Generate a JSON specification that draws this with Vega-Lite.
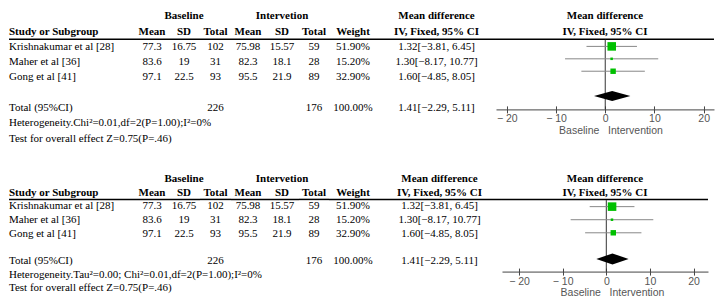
{
  "$schema": "https://vega.github.io/schema/vega-lite/v6.json",
  "padding": {"left": 8, "top": 8.65, "right": 0, "bottom": 0},
  "spacing": 25.45,
  "config": {
    "view": {"stroke": null},
    "text": {"font": "Liberation Serif", "fontSize": 11, "color": "black", "baseline": "middle"}
  },
  "datasets": {
    "tab1": [
      {"row": "group", "bsd": "Baseline", "isd": "Intervetion", "ci": "Mean difference"},
      {"row": "header", "study": "Study or Subgroup", "bm": "Mean", "bsd": "SD", "bt": "Total", "im": "Mean", "isd": "SD", "it": "Total", "w": "Weight", "ci": "IV, Fixed, 95% CI"},
      {"row": "r1", "study": "Krishnakumar et al [28]", "bm": "77.3", "bsd": "16.75", "bt": "102", "im": "75.98", "isd": "15.57", "it": "59", "w": "51.90%", "ci": "1.32[−3.81, 6.45]"},
      {"row": "r2", "study": "Maher et al [36]", "bm": "83.6", "bsd": "19", "bt": "31", "im": "82.3", "isd": "18.1", "it": "28", "w": "15.20%", "ci": "1.30[−8.17, 10.77]"},
      {"row": "r3", "study": "Gong et al [41]", "bm": "97.1", "bsd": "22.5", "bt": "93", "im": "95.5", "isd": "21.9", "it": "89", "w": "32.90%", "ci": "1.60[−4.85, 8.05]"},
      {"row": "total", "study": "Total (95%CI)", "bt": "226", "it": "176", "w": "100.00%", "ci": "1.41[−2.29, 5.11]"},
      {"row": "het", "study": "Heterogeneity.Chi²=0.01,df=2(P=1.00);I²=0%"},
      {"row": "test", "study": "Test for overall effect Z=0.75(P=.46)"}
    ],
    "tab2": [
      {"row": "group", "bsd": "Baseline", "isd": "Intervetion", "ci": "Mean difference"},
      {"row": "header", "study": "Study or Subgroup", "bm": "Mean", "bsd": "SD", "bt": "Total", "im": "Mean", "isd": "SD", "it": "Total", "w": "Weight", "ci": "IV, Fixed, 95% CI"},
      {"row": "r1", "study": "Krishnakumar et al [28]", "bm": "77.3", "bsd": "16.75", "bt": "102", "im": "75.98", "isd": "15.57", "it": "59", "w": "51.90%", "ci": "1.32[−3.81, 6.45]"},
      {"row": "r2", "study": "Maher et al [36]", "bm": "83.6", "bsd": "19", "bt": "31", "im": "82.3", "isd": "18.1", "it": "28", "w": "15.20%", "ci": "1.30[−8.17, 10.77]"},
      {"row": "r3", "study": "Gong et al [41]", "bm": "97.1", "bsd": "22.5", "bt": "93", "im": "95.5", "isd": "21.9", "it": "89", "w": "32.90%", "ci": "1.60[−4.85, 8.05]"},
      {"row": "total", "study": "Total (95%CI)", "bt": "226", "it": "176", "w": "100.00%", "ci": "1.41[−2.29, 5.11]"},
      {"row": "het", "study": "Heterogeneity.Tau²=0.00; Chi²=0.01,df=2(P=1.00);I²=0%"},
      {"row": "test", "study": "Test for overall effect Z=0.75(P=.46)"}
    ],
    "forest": [
      {"row": "r1", "md": 1.32, "lo": -3.81, "hi": 6.45, "w": 51.9},
      {"row": "r2", "md": 1.30, "lo": -8.17, "hi": 10.77, "w": 15.2},
      {"row": "r3", "md": 1.60, "lo": -4.85, "hi": 8.05, "w": 32.9}
    ],
    "diamond": [
      {"md": -2.29, "up": 0, "dn": 0},
      {"md": 1.41, "up": 1, "dn": -1},
      {"md": 5.11, "up": 0, "dn": 0}
    ]
  },
  "vconcat": [
    {
      "hconcat": [
        {"width": 127, "height": 137.7, "layer": [
          {"data": {"name": "tab1"}, "transform": [{"filter": "datum.study != null && datum.row === 'header'"}], "mark": {"type": "text", "align": "left", "fontWeight": "bold"}, "encoding": {"x": {"datum": "a", "type": "nominal", "bandPosition": 0, "scale": {"type": "band", "domain": ["a"], "paddingInner": 0, "paddingOuter": 0}, "axis": null}, "y": {"field": "row", "type": "nominal", "scale": {"type": "band", "domain": ["group","header","r1","r2","r3","gap","total","het","test"], "paddingInner": 0, "paddingOuter": 0}, "axis": null}, "text": {"field": "study"}}},
          {"data": {"name": "tab1"}, "transform": [{"filter": "datum.study != null && datum.row !== 'header'"}], "mark": {"type": "text", "align": "left"}, "encoding": {"x": {"datum": "a", "type": "nominal", "bandPosition": 0}, "y": {"field": "row", "type": "nominal"}, "text": {"field": "study"}}},
          {"data": {"values": [{}]}, "mark": {"type": "rule", "color": "black", "strokeWidth": 1.5}, "encoding": {"y": {"datum": "r1", "type": "nominal", "bandPosition": 0}}}
        ]},
        {"width": 32, "height": 137.7, "layer": [
          {"data": {"name": "tab1"}, "transform": [{"filter": "datum.bm != null && (datum.row === 'group' || datum.row === 'header')"}], "mark": {"type": "text", "fontWeight": "bold"}, "encoding": {"y": {"field": "row", "type": "nominal", "scale": {"type": "band", "domain": ["group","header","r1","r2","r3","gap","total","het","test"], "paddingInner": 0, "paddingOuter": 0}, "axis": null}, "text": {"field": "bm"}}},
          {"data": {"name": "tab1"}, "transform": [{"filter": "datum.bm != null && datum.row !== 'group' && datum.row !== 'header'"}], "mark": {"type": "text"}, "encoding": {"y": {"field": "row", "type": "nominal"}, "text": {"field": "bm"}}},
          {"data": {"values": [{}]}, "mark": {"type": "rule", "color": "black", "strokeWidth": 1.5}, "encoding": {"y": {"datum": "r1", "type": "nominal", "bandPosition": 0}}}
        ]},
        {"width": 32, "height": 137.7, "layer": [
          {"data": {"name": "tab1"}, "transform": [{"filter": "datum.bsd != null && (datum.row === 'group' || datum.row === 'header')"}], "mark": {"type": "text", "fontWeight": "bold"}, "encoding": {"y": {"field": "row", "type": "nominal", "scale": {"type": "band", "domain": ["group","header","r1","r2","r3","gap","total","het","test"], "paddingInner": 0, "paddingOuter": 0}, "axis": null}, "text": {"field": "bsd"}}},
          {"data": {"name": "tab1"}, "transform": [{"filter": "datum.bsd != null && datum.row !== 'group' && datum.row !== 'header'"}], "mark": {"type": "text"}, "encoding": {"y": {"field": "row", "type": "nominal"}, "text": {"field": "bsd"}}},
          {"data": {"values": [{}]}, "mark": {"type": "rule", "color": "black", "strokeWidth": 1.5}, "encoding": {"y": {"datum": "r1", "type": "nominal", "bandPosition": 0}}}
        ]},
        {"width": 31, "height": 137.7, "layer": [
          {"data": {"name": "tab1"}, "transform": [{"filter": "datum.bt != null && (datum.row === 'group' || datum.row === 'header')"}], "mark": {"type": "text", "fontWeight": "bold"}, "encoding": {"y": {"field": "row", "type": "nominal", "scale": {"type": "band", "domain": ["group","header","r1","r2","r3","gap","total","het","test"], "paddingInner": 0, "paddingOuter": 0}, "axis": null}, "text": {"field": "bt"}}},
          {"data": {"name": "tab1"}, "transform": [{"filter": "datum.bt != null && datum.row !== 'group' && datum.row !== 'header'"}], "mark": {"type": "text"}, "encoding": {"y": {"field": "row", "type": "nominal"}, "text": {"field": "bt"}}},
          {"data": {"values": [{}]}, "mark": {"type": "rule", "color": "black", "strokeWidth": 1.5}, "encoding": {"y": {"datum": "r1", "type": "nominal", "bandPosition": 0}}}
        ]},
        {"width": 34, "height": 137.7, "layer": [
          {"data": {"name": "tab1"}, "transform": [{"filter": "datum.im != null && (datum.row === 'group' || datum.row === 'header')"}], "mark": {"type": "text", "fontWeight": "bold"}, "encoding": {"y": {"field": "row", "type": "nominal", "scale": {"type": "band", "domain": ["group","header","r1","r2","r3","gap","total","het","test"], "paddingInner": 0, "paddingOuter": 0}, "axis": null}, "text": {"field": "im"}}},
          {"data": {"name": "tab1"}, "transform": [{"filter": "datum.im != null && datum.row !== 'group' && datum.row !== 'header'"}], "mark": {"type": "text"}, "encoding": {"y": {"field": "row", "type": "nominal"}, "text": {"field": "im"}}},
          {"data": {"values": [{}]}, "mark": {"type": "rule", "color": "black", "strokeWidth": 1.5}, "encoding": {"y": {"datum": "r1", "type": "nominal", "bandPosition": 0}}}
        ]},
        {"width": 34, "height": 137.7, "layer": [
          {"data": {"name": "tab1"}, "transform": [{"filter": "datum.isd != null && (datum.row === 'group' || datum.row === 'header')"}], "mark": {"type": "text", "fontWeight": "bold"}, "encoding": {"y": {"field": "row", "type": "nominal", "scale": {"type": "band", "domain": ["group","header","r1","r2","r3","gap","total","het","test"], "paddingInner": 0, "paddingOuter": 0}, "axis": null}, "text": {"field": "isd"}}},
          {"data": {"name": "tab1"}, "transform": [{"filter": "datum.isd != null && datum.row !== 'group' && datum.row !== 'header'"}], "mark": {"type": "text"}, "encoding": {"y": {"field": "row", "type": "nominal"}, "text": {"field": "isd"}}},
          {"data": {"values": [{}]}, "mark": {"type": "rule", "color": "black", "strokeWidth": 1.5}, "encoding": {"y": {"datum": "r1", "type": "nominal", "bandPosition": 0}}}
        ]},
        {"width": 30, "height": 137.7, "layer": [
          {"data": {"name": "tab1"}, "transform": [{"filter": "datum.it != null && (datum.row === 'group' || datum.row === 'header')"}], "mark": {"type": "text", "fontWeight": "bold"}, "encoding": {"y": {"field": "row", "type": "nominal", "scale": {"type": "band", "domain": ["group","header","r1","r2","r3","gap","total","het","test"], "paddingInner": 0, "paddingOuter": 0}, "axis": null}, "text": {"field": "it"}}},
          {"data": {"name": "tab1"}, "transform": [{"filter": "datum.it != null && datum.row !== 'group' && datum.row !== 'header'"}], "mark": {"type": "text"}, "encoding": {"y": {"field": "row", "type": "nominal"}, "text": {"field": "it"}}},
          {"data": {"values": [{}]}, "mark": {"type": "rule", "color": "black", "strokeWidth": 1.5}, "encoding": {"y": {"datum": "r1", "type": "nominal", "bandPosition": 0}}}
        ]},
        {"width": 48, "height": 137.7, "layer": [
          {"data": {"name": "tab1"}, "transform": [{"filter": "datum.w != null && (datum.row === 'group' || datum.row === 'header')"}], "mark": {"type": "text", "fontWeight": "bold"}, "encoding": {"y": {"field": "row", "type": "nominal", "scale": {"type": "band", "domain": ["group","header","r1","r2","r3","gap","total","het","test"], "paddingInner": 0, "paddingOuter": 0}, "axis": null}, "text": {"field": "w"}}},
          {"data": {"name": "tab1"}, "transform": [{"filter": "datum.w != null && datum.row !== 'group' && datum.row !== 'header'"}], "mark": {"type": "text"}, "encoding": {"y": {"field": "row", "type": "nominal"}, "text": {"field": "w"}}},
          {"data": {"values": [{}]}, "mark": {"type": "rule", "color": "black", "strokeWidth": 1.5}, "encoding": {"y": {"datum": "r1", "type": "nominal", "bandPosition": 0}}}
        ]},
        {"width": 119, "height": 137.7, "layer": [
          {"data": {"name": "tab1"}, "transform": [{"filter": "datum.ci != null && (datum.row === 'group' || datum.row === 'header')"}], "mark": {"type": "text", "fontWeight": "bold"}, "encoding": {"y": {"field": "row", "type": "nominal", "scale": {"type": "band", "domain": ["group","header","r1","r2","r3","gap","total","het","test"], "paddingInner": 0, "paddingOuter": 0}, "axis": null}, "text": {"field": "ci"}}},
          {"data": {"name": "tab1"}, "transform": [{"filter": "datum.ci != null && datum.row !== 'group' && datum.row !== 'header'"}], "mark": {"type": "text"}, "encoding": {"y": {"field": "row", "type": "nominal"}, "text": {"field": "ci"}}},
          {"data": {"values": [{}]}, "mark": {"type": "rule", "color": "black", "strokeWidth": 1.5}, "encoding": {"y": {"datum": "r1", "type": "nominal", "bandPosition": 0}}}
        ]},
        {
          "vconcat": [
            {"width": 218, "height": 30.6, "layer": [
              {"data": {"name": "tab1"}, "transform": [{"filter": "datum.row === 'group' || datum.row === 'header'"}], "mark": {"type": "text", "fontWeight": "bold"}, "encoding": {"y": {"field": "row", "type": "nominal", "scale": {"type": "band", "domain": ["group","header"], "paddingInner": 0, "paddingOuter": 0}, "axis": null}, "text": {"field": "ci"}}},
              {"data": {"values": [{}]}, "mark": {"type": "rule", "color": "black", "strokeWidth": 1.5}, "encoding": {"y": {"datum": "header", "type": "nominal", "bandPosition": 1}}}
            ]},
            {"width": 218, "height": 69.75, "layer": [
              {"data": {"values": [{}]}, "mark": {"type": "rule", "color": "#333", "strokeWidth": 1}, "encoding": {"x": {"datum": 0, "type": "quantitative", "axis": null}}},
              {"data": {"name": "forest"}, "mark": {"type": "rule", "color": "#888", "strokeWidth": 1}, "encoding": {
                "x": {"field": "lo", "type": "quantitative", "scale": {"domain": [-22.2, 22.1], "nice": false, "zero": false}, "axis": {"orient": "bottom", "values": [-20, -10, 0, 10, 20], "grid": false, "domainColor": "#444", "tickColor": "#444", "tickSize": 3.5, "labelPadding": 1, "labelColor": "#555", "labelFont": "Liberation Sans", "labelFontSize": 10.5, "labelExpr": "datum.value < 0 ? '− ' + abs(datum.value) : datum.label", "title": "Baseline\u00a0\u00a0\u00a0Intervention", "titleFont": "Liberation Sans", "titleFontSize": 10.5, "titleFontWeight": "normal", "titleColor": "#555", "titlePadding": 1, "titleX": 114.5, "titleAlign": "center"}},
                "x2": {"field": "hi"},
                "y": {"field": "row", "type": "nominal", "scale": {"type": "band", "domain": ["r1","r2","r3","gap","total"], "paddingInner": 0, "paddingOuter": 0.308, "align": 0.07}, "axis": null}}},
              {"data": {"name": "forest"}, "mark": {"type": "square", "filled": true, "color": "#00C000", "opacity": 1}, "encoding": {
                "x": {"field": "md", "type": "quantitative", "axis": {"orient": "bottom", "values": [-20, -10, 0, 10, 20], "grid": false, "domain": false, "labels": false, "tickSize": -3.5, "tickColor": "#444", "title": null}},
                "y": {"field": "row", "type": "nominal", "scale": {"type": "band", "domain": ["r1","r2","r3","gap","total"], "paddingInner": 0, "paddingOuter": 0.308, "align": 0.07}, "axis": null},
                "size": {"field": "w", "type": "quantitative", "scale": {"type": "pow", "exponent": 2, "domain": [0, 100], "range": [0, 272]}, "legend": null}}},
              {"data": {"name": "diamond"}, "mark": {"type": "area", "color": "black"}, "encoding": {
                "x": {"field": "md", "type": "quantitative", "axis": null},
                "y": {"field": "up", "type": "quantitative", "scale": {"domain": [-2.66, 11.29], "nice": false, "zero": false}, "axis": null},
                "y2": {"field": "dn"}}}
            ], "resolve": {"scale": {"y": "independent"}, "axis": {"x": "independent"}}}
          ],
          "spacing": 0,
          "bounds": "flush"
        }
      ],
      "spacing": 0,
      "bounds": "flush"
    },
    {
      "hconcat": [
        {"width": 127, "height": 122.94, "layer": [
          {"data": {"name": "tab2"}, "transform": [{"filter": "datum.study != null && datum.row === 'header'"}], "mark": {"type": "text", "align": "left", "fontWeight": "bold"}, "encoding": {"x": {"datum": "a", "type": "nominal", "bandPosition": 0, "scale": {"type": "band", "domain": ["a"], "paddingInner": 0, "paddingOuter": 0}, "axis": null}, "y": {"field": "row", "type": "nominal", "scale": {"type": "band", "domain": ["group","header","r1","r2","r3","gap","total","het","test"], "paddingInner": 0, "paddingOuter": 0}, "axis": null}, "text": {"field": "study"}}},
          {"data": {"name": "tab2"}, "transform": [{"filter": "datum.study != null && datum.row !== 'header'"}], "mark": {"type": "text", "align": "left"}, "encoding": {"x": {"datum": "a", "type": "nominal", "bandPosition": 0}, "y": {"field": "row", "type": "nominal"}, "text": {"field": "study"}}},
          {"data": {"values": [{}]}, "mark": {"type": "rule", "color": "black", "strokeWidth": 1.5}, "encoding": {"y": {"datum": "r1", "type": "nominal", "bandPosition": 0}}}
        ]},
        {"width": 32, "height": 122.94, "layer": [
          {"data": {"name": "tab2"}, "transform": [{"filter": "datum.bm != null && (datum.row === 'group' || datum.row === 'header')"}], "mark": {"type": "text", "fontWeight": "bold"}, "encoding": {"y": {"field": "row", "type": "nominal", "scale": {"type": "band", "domain": ["group","header","r1","r2","r3","gap","total","het","test"], "paddingInner": 0, "paddingOuter": 0}, "axis": null}, "text": {"field": "bm"}}},
          {"data": {"name": "tab2"}, "transform": [{"filter": "datum.bm != null && datum.row !== 'group' && datum.row !== 'header'"}], "mark": {"type": "text"}, "encoding": {"y": {"field": "row", "type": "nominal"}, "text": {"field": "bm"}}},
          {"data": {"values": [{}]}, "mark": {"type": "rule", "color": "black", "strokeWidth": 1.5}, "encoding": {"y": {"datum": "r1", "type": "nominal", "bandPosition": 0}}}
        ]},
        {"width": 32, "height": 122.94, "layer": [
          {"data": {"name": "tab2"}, "transform": [{"filter": "datum.bsd != null && (datum.row === 'group' || datum.row === 'header')"}], "mark": {"type": "text", "fontWeight": "bold"}, "encoding": {"y": {"field": "row", "type": "nominal", "scale": {"type": "band", "domain": ["group","header","r1","r2","r3","gap","total","het","test"], "paddingInner": 0, "paddingOuter": 0}, "axis": null}, "text": {"field": "bsd"}}},
          {"data": {"name": "tab2"}, "transform": [{"filter": "datum.bsd != null && datum.row !== 'group' && datum.row !== 'header'"}], "mark": {"type": "text"}, "encoding": {"y": {"field": "row", "type": "nominal"}, "text": {"field": "bsd"}}},
          {"data": {"values": [{}]}, "mark": {"type": "rule", "color": "black", "strokeWidth": 1.5}, "encoding": {"y": {"datum": "r1", "type": "nominal", "bandPosition": 0}}}
        ]},
        {"width": 31, "height": 122.94, "layer": [
          {"data": {"name": "tab2"}, "transform": [{"filter": "datum.bt != null && (datum.row === 'group' || datum.row === 'header')"}], "mark": {"type": "text", "fontWeight": "bold"}, "encoding": {"y": {"field": "row", "type": "nominal", "scale": {"type": "band", "domain": ["group","header","r1","r2","r3","gap","total","het","test"], "paddingInner": 0, "paddingOuter": 0}, "axis": null}, "text": {"field": "bt"}}},
          {"data": {"name": "tab2"}, "transform": [{"filter": "datum.bt != null && datum.row !== 'group' && datum.row !== 'header'"}], "mark": {"type": "text"}, "encoding": {"y": {"field": "row", "type": "nominal"}, "text": {"field": "bt"}}},
          {"data": {"values": [{}]}, "mark": {"type": "rule", "color": "black", "strokeWidth": 1.5}, "encoding": {"y": {"datum": "r1", "type": "nominal", "bandPosition": 0}}}
        ]},
        {"width": 34, "height": 122.94, "layer": [
          {"data": {"name": "tab2"}, "transform": [{"filter": "datum.im != null && (datum.row === 'group' || datum.row === 'header')"}], "mark": {"type": "text", "fontWeight": "bold"}, "encoding": {"y": {"field": "row", "type": "nominal", "scale": {"type": "band", "domain": ["group","header","r1","r2","r3","gap","total","het","test"], "paddingInner": 0, "paddingOuter": 0}, "axis": null}, "text": {"field": "im"}}},
          {"data": {"name": "tab2"}, "transform": [{"filter": "datum.im != null && datum.row !== 'group' && datum.row !== 'header'"}], "mark": {"type": "text"}, "encoding": {"y": {"field": "row", "type": "nominal"}, "text": {"field": "im"}}},
          {"data": {"values": [{}]}, "mark": {"type": "rule", "color": "black", "strokeWidth": 1.5}, "encoding": {"y": {"datum": "r1", "type": "nominal", "bandPosition": 0}}}
        ]},
        {"width": 34, "height": 122.94, "layer": [
          {"data": {"name": "tab2"}, "transform": [{"filter": "datum.isd != null && (datum.row === 'group' || datum.row === 'header')"}], "mark": {"type": "text", "fontWeight": "bold"}, "encoding": {"y": {"field": "row", "type": "nominal", "scale": {"type": "band", "domain": ["group","header","r1","r2","r3","gap","total","het","test"], "paddingInner": 0, "paddingOuter": 0}, "axis": null}, "text": {"field": "isd"}}},
          {"data": {"name": "tab2"}, "transform": [{"filter": "datum.isd != null && datum.row !== 'group' && datum.row !== 'header'"}], "mark": {"type": "text"}, "encoding": {"y": {"field": "row", "type": "nominal"}, "text": {"field": "isd"}}},
          {"data": {"values": [{}]}, "mark": {"type": "rule", "color": "black", "strokeWidth": 1.5}, "encoding": {"y": {"datum": "r1", "type": "nominal", "bandPosition": 0}}}
        ]},
        {"width": 30, "height": 122.94, "layer": [
          {"data": {"name": "tab2"}, "transform": [{"filter": "datum.it != null && (datum.row === 'group' || datum.row === 'header')"}], "mark": {"type": "text", "fontWeight": "bold"}, "encoding": {"y": {"field": "row", "type": "nominal", "scale": {"type": "band", "domain": ["group","header","r1","r2","r3","gap","total","het","test"], "paddingInner": 0, "paddingOuter": 0}, "axis": null}, "text": {"field": "it"}}},
          {"data": {"name": "tab2"}, "transform": [{"filter": "datum.it != null && datum.row !== 'group' && datum.row !== 'header'"}], "mark": {"type": "text"}, "encoding": {"y": {"field": "row", "type": "nominal"}, "text": {"field": "it"}}},
          {"data": {"values": [{}]}, "mark": {"type": "rule", "color": "black", "strokeWidth": 1.5}, "encoding": {"y": {"datum": "r1", "type": "nominal", "bandPosition": 0}}}
        ]},
        {"width": 48, "height": 122.94, "layer": [
          {"data": {"name": "tab2"}, "transform": [{"filter": "datum.w != null && (datum.row === 'group' || datum.row === 'header')"}], "mark": {"type": "text", "fontWeight": "bold"}, "encoding": {"y": {"field": "row", "type": "nominal", "scale": {"type": "band", "domain": ["group","header","r1","r2","r3","gap","total","het","test"], "paddingInner": 0, "paddingOuter": 0}, "axis": null}, "text": {"field": "w"}}},
          {"data": {"name": "tab2"}, "transform": [{"filter": "datum.w != null && datum.row !== 'group' && datum.row !== 'header'"}], "mark": {"type": "text"}, "encoding": {"y": {"field": "row", "type": "nominal"}, "text": {"field": "w"}}},
          {"data": {"values": [{}]}, "mark": {"type": "rule", "color": "black", "strokeWidth": 1.5}, "encoding": {"y": {"datum": "r1", "type": "nominal", "bandPosition": 0}}}
        ]},
        {"width": 125, "height": 122.94, "layer": [
          {"data": {"name": "tab2"}, "transform": [{"filter": "datum.ci != null && (datum.row === 'group' || datum.row === 'header')"}], "mark": {"type": "text", "fontWeight": "bold"}, "encoding": {"y": {"field": "row", "type": "nominal", "scale": {"type": "band", "domain": ["group","header","r1","r2","r3","gap","total","het","test"], "paddingInner": 0, "paddingOuter": 0}, "axis": null}, "text": {"field": "ci"}}},
          {"data": {"name": "tab2"}, "transform": [{"filter": "datum.ci != null && datum.row !== 'group' && datum.row !== 'header'"}], "mark": {"type": "text"}, "encoding": {"y": {"field": "row", "type": "nominal"}, "text": {"field": "ci"}}},
          {"data": {"values": [{}]}, "mark": {"type": "rule", "color": "black", "strokeWidth": 1.5}, "encoding": {"y": {"datum": "r1", "type": "nominal", "bandPosition": 0}}}
        ]},
        {
          "vconcat": [
            {"width": 206, "height": 27.32, "layer": [
              {"data": {"name": "tab2"}, "transform": [{"filter": "datum.row === 'group' || datum.row === 'header'"}], "mark": {"type": "text", "fontWeight": "bold"}, "encoding": {"y": {"field": "row", "type": "nominal", "scale": {"type": "band", "domain": ["group","header"], "paddingInner": 0, "paddingOuter": 0}, "axis": null}, "text": {"field": "ci"}}},
              {"data": {"values": [{}]}, "mark": {"type": "rule", "color": "black", "strokeWidth": 1.5}, "encoding": {"y": {"datum": "header", "type": "nominal", "bandPosition": 1}}}
            ]},
            {"width": 206, "height": 71.5, "layer": [
              {"data": {"values": [{}]}, "mark": {"type": "rule", "color": "#333", "strokeWidth": 1}, "encoding": {"x": {"datum": 0, "type": "quantitative", "axis": null}}},
              {"data": {"name": "forest"}, "mark": {"type": "rule", "color": "#888", "strokeWidth": 1}, "encoding": {
                "x": {"field": "lo", "type": "quantitative", "scale": {"domain": [-23.9, 23.3], "nice": false, "zero": false}, "axis": {"orient": "bottom", "values": [-20, -10, 0, 10, 20], "grid": false, "domainColor": "#444", "tickColor": "#444", "tickSize": 3.5, "labelPadding": 1, "labelColor": "#555", "labelFont": "Liberation Sans", "labelFontSize": 10.5, "labelExpr": "datum.value < 0 ? '− ' + abs(datum.value) : datum.label", "title": "Baseline\u00a0\u00a0\u00a0Intervention", "titleFont": "Liberation Sans", "titleFontSize": 10.5, "titleFontWeight": "normal", "titleColor": "#555", "titlePadding": 1, "titleX": 110, "titleAlign": "center"}},
                "x2": {"field": "hi"},
                "y": {"field": "row", "type": "nominal", "scale": {"type": "band", "domain": ["r1","r2","r3","gap","total"], "paddingInner": 0, "paddingOuter": 0.233, "align": 0}, "axis": null}}},
              {"data": {"name": "forest"}, "mark": {"type": "square", "filled": true, "color": "#00C000", "opacity": 1}, "encoding": {
                "x": {"field": "md", "type": "quantitative", "axis": {"orient": "bottom", "values": [-20, -10, 0, 10, 20], "grid": false, "domain": false, "labels": false, "tickSize": -3.5, "tickColor": "#444", "title": null}},
                "y": {"field": "row", "type": "nominal", "scale": {"type": "band", "domain": ["r1","r2","r3","gap","total"], "paddingInner": 0, "paddingOuter": 0.233, "align": 0}, "axis": null},
                "size": {"field": "w", "type": "quantitative", "scale": {"type": "pow", "exponent": 2, "domain": [0, 100], "range": [0, 361]}, "legend": null}}},
              {"data": {"name": "diamond"}, "mark": {"type": "area", "color": "black"}, "encoding": {
                "x": {"field": "md", "type": "quantitative", "axis": null},
                "y": {"field": "up", "type": "quantitative", "scale": {"domain": [-2.3, 10.7], "nice": false, "zero": false}, "axis": null},
                "y2": {"field": "dn"}}}
            ], "resolve": {"scale": {"y": "independent"}, "axis": {"x": "independent"}}}
          ],
          "spacing": 0,
          "bounds": "flush"
        }
      ],
      "spacing": 0,
      "bounds": "flush"
    }
  ]
}
